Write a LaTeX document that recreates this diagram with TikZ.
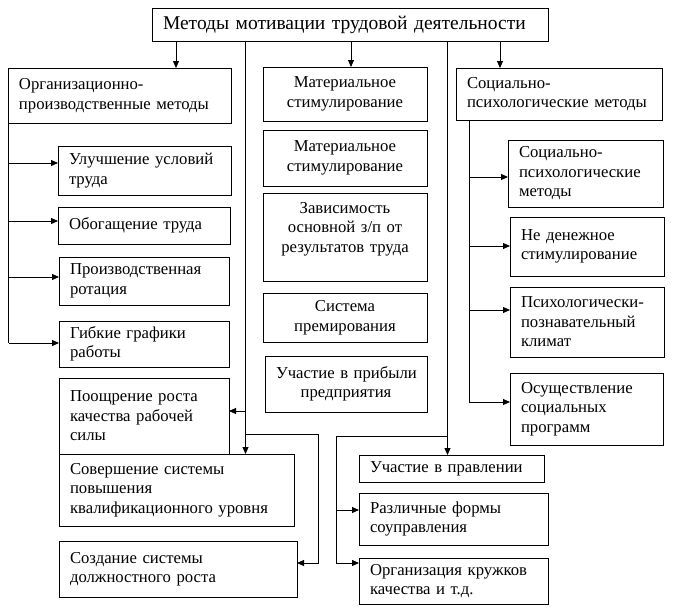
\documentclass[tikz,border=0pt]{standalone}
\usepackage{fontspec}
\setmainfont{Liberation Serif}
\usetikzlibrary{arrows.meta}
\newcommand\mkbox[7]{%
  \pgfmathsetmacro\bw{#5-#3}\pgfmathsetmacro\bh{#6-#4}%
  \pgfmathsetmacro\cx{(#3+#5)/2}\pgfmathsetmacro\cy{(#4+#6)/2}%
  \pgfmathsetmacro\tw{\bw-22}%
  \node[box,#1,minimum width=\bw pt,minimum height=\bh pt,text width=\tw pt] (#2) at (\cx,\cy) {#7};}
\begin{document}
\begin{tikzpicture}[x=1pt,y=-1pt,
  box/.style={draw,line width=0.9pt,inner xsep=11pt,inner ysep=2pt,outer sep=0pt,align=left,
    font=\fontsize{16.7}{19.5}\selectfont},
  ctr/.style={align=center},
  conn/.style={line width=0.9pt},
  arr/.style={conn,-{Triangle[length=7pt,width=6pt]}}]
\useasboundingbox[fill=white] (0,0) rectangle (675,616);
% boxes
\mkbox{font=\fontsize{19.5}{22}\selectfont}{top}{152}{8}{548}{41}{Методы мотивации трудовой деятельности}
\mkbox{}{org}{8}{68}{231}{123}{Организационно-\\производственные~методы}
\mkbox{ctr}{mat1}{263}{67}{427}{121}{Материальное\\стимулирование}
\mkbox{}{soc}{456}{68}{662}{120}{Социально-\\психологические~методы}
\mkbox{}{ul}{58}{146}{231}{195}{Улучшение~условий\\труда}
\mkbox{}{ob}{58}{207}{230}{244}{Обогащение труда}
\mkbox{}{pr}{59}{257}{229}{305}{Производственная\\ротация}
\mkbox{}{gb}{59}{321}{229}{367}{Гибкие графики\\работы}
\mkbox{}{po}{59}{378}{229}{454}{Поощрение~роста\\качества~рабочей\\силы}
\mkbox{}{sov}{59}{454}{294}{526}{Совершение системы\\повышения\\квалификационного~уровня}
\mkbox{}{soz}{59}{541}{297}{597}{Создание системы\\должностного роста}
\mkbox{ctr}{mat2}{263}{130}{427}{186}{Материальное\\стимулирование}
\mkbox{ctr}{zav}{263}{193}{427}{281}{Зависимость\\основной з/п от\\результатов~труда\\\mbox{}}
\mkbox{ctr}{sys}{263}{293}{427}{342}{Система\\премирования}
\mkbox{ctr}{uch}{265}{356}{427}{412}{Участие~в~прибыли\\предприятия}
\mkbox{}{s1}{508}{140}{663}{207}{Социально-\\психологические\\методы}
\mkbox{}{s2}{510}{217}{664}{276}{Не денежное\\стимулирование}
\mkbox{}{s3}{510}{287}{664}{357}{Психологически-\\познавательный\\климат}
\mkbox{}{s4}{510}{373}{663}{445}{Осуществление\\социальных\\программ}
\mkbox{}{up}{359}{455}{544}{482}{Участие~в~правлении}
\mkbox{}{rf}{359}{493}{548}{545}{Различные формы\\соуправления}
\mkbox{}{ok}{359}{558}{548}{604}{Организация~кружков\\качества и т.д.}
% column / row coordinates
\coordinate (cOrg) at (176,0);
\coordinate (cMat) at (351,0);
\coordinate (cSoc) at (500,0);
\coordinate (cL) at (245.5,0);
\coordinate (cR) at (447.5,0);
\coordinate (cL2) at (318,0);
\coordinate (cR2) at (336,0);
\coordinate (cOL) at (8.5,0);
\coordinate (cSL) at (469,0);
\coordinate (yUl) at (0,163);
\coordinate (yOb) at (0,221);
\coordinate (yPr) at (0,277);
\coordinate (yGb) at (0,343);
\coordinate (yS1) at (0,177);
\coordinate (yS2) at (0,246);
\coordinate (yS3) at (0,310);
\coordinate (yS4) at (0,402);
\coordinate (yPo) at (0,411);
\coordinate (yBL) at (0,434);
\coordinate (yBR) at (0,436);
\coordinate (yRf) at (0,510);
\coordinate (yLow) at (0,563);
% top arrows
\draw[arr] (top.south -| cOrg) -- (org.north -| cOrg);
\draw[arr] (top.south -| cMat) -- (mat1.north -| cMat);
\draw[arr] (top.south -| cSoc) -- (soc.north -| cSoc);
% left long line
\draw[arr] (top.south -| cL) -- (sov.north -| cL);
\draw[arr] (cL |- yPo) -- (po.east |- yPo);
\draw[arr] (cL |- yBL) -- (cL2 |- yBL) -- (cL2 |- yLow) -- (soz.east |- yLow);
% right long line
\draw[arr] (top.south -| cR) -- (up.north -| cR);
\draw[conn] (cR |- yBR) -- (cR2 |- yBR) -- (cR2 |- yLow);
\draw[arr] (cR2 |- yRf) -- (rf.west |- yRf);
\draw[arr] (cR2 |- yLow) -- (ok.west |- yLow);
% organisational branch
\draw[conn] (org.south -| cOL) -- (cOL |- yGb);
\draw[arr] (cOL |- yUl) -- (ul.west |- yUl);
\draw[arr] (cOL |- yOb) -- (ob.west |- yOb);
\draw[arr] (cOL |- yPr) -- (pr.west |- yPr);
\draw[arr] (cOL |- yGb) -- (gb.west |- yGb);
% social branch
\draw[conn] (soc.south -| cSL) -- (cSL |- yS4);
\draw[arr] (cSL |- yS1) -- (s1.west |- yS1);
\draw[arr] (cSL |- yS2) -- (s2.west |- yS2);
\draw[arr] (cSL |- yS3) -- (s3.west |- yS3);
\draw[arr] (cSL |- yS4) -- (s4.west |- yS4);
\end{tikzpicture}
\end{document}
